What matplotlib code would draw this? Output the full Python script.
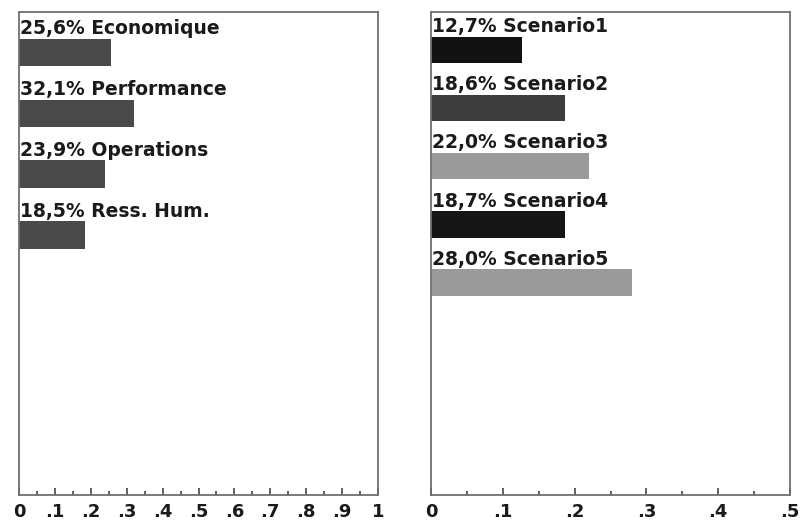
import numpy as np
import matplotlib; matplotlib.use("Agg")
import matplotlib.pyplot as plt
from matplotlib.ticker import MultipleLocator, FuncFormatter

# left panel: criteria weights
crit_names = ["Economique", "Performance", "Operations", "Ress. Hum."]
crit_vals = [0.256, 0.321, 0.239, 0.185]
crit_cols = ["#4a4a4a", "#4a4a4a", "#4a4a4a", "#4a4a4a"]

# right panel: scenario scores
scen_names = ["Scenario1", "Scenario2", "Scenario3", "Scenario4", "Scenario5"]
scen_vals = [0.127, 0.186, 0.220, 0.187, 0.280]
scen_cols = ["#111111", "#3c3c3c", "#9a9a9a", "#151515", "#9a9a9a"]

plt.rcParams.update({"font.family": "DejaVu Sans"})
INK = "#1a1a1a"; EDGE = "#707070"

fig = plt.figure(figsize=(8.02, 5.22), dpi=100)
axL = fig.add_axes([19/802, 1-495/522, 359/802, 483/522])
axR = fig.add_axes([431/802, 1-495/522, 359/802, 483/522])


def lab(v, pos):
    if abs(v) < 1e-9:
        return "0"
    if abs(v - 1) < 1e-9:
        return "1"
    return ("%.1f" % v)[1:]


def panel(ax, names, vals, cols, xmax, ylim):
    y = np.arange(len(names))
    ax.barh(y, vals, height=0.45, color=cols, edgecolor="none")
    for i, (n, v) in enumerate(zip(names, vals)):
        ax.text(0.002 * xmax, i - 0.24, ("%.1f%% %s" % (v * 100, n)).replace(".", ",", 1),
                ha="left", va="bottom", fontsize=13.5, fontweight="bold", color=INK)
    ax.set_xlim(0, xmax)
    ax.set_ylim(*ylim)
    ax.set_yticks([])
    ax.xaxis.set_major_locator(MultipleLocator(0.1))
    ax.xaxis.set_minor_locator(MultipleLocator(0.05))
    ax.xaxis.set_major_formatter(FuncFormatter(lab))
    ax.tick_params(axis="x", which="major", direction="in", length=5, width=1.2,
                   color="#444444", labelsize=13, pad=6, labelcolor=INK)
    ax.tick_params(axis="x", which="minor", direction="in", length=3, width=1.2, color="#444444")
    for s in ax.spines.values():
        s.set_color(EDGE); s.set_linewidth(1.3)
    for t in ax.get_xticklabels():
        t.set_fontweight("bold")


panel(axL, crit_names, crit_vals, crit_cols, 1.0, (7.26, -0.66))
panel(axR, scen_names, scen_vals, scen_cols, 0.5, (7.66, -0.66))

fig.savefig("out.png", dpi=100)
